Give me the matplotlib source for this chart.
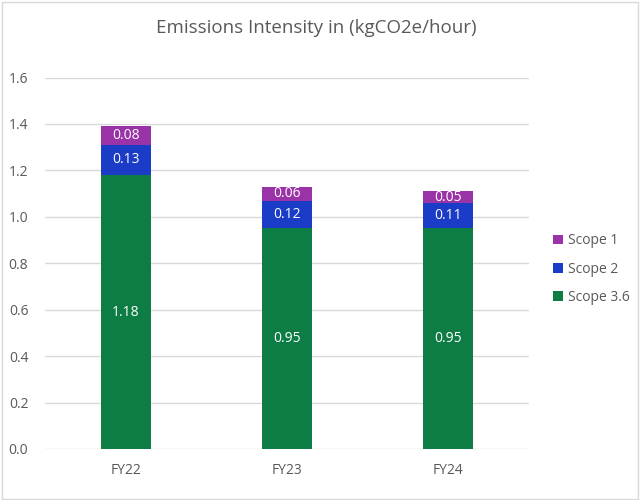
import matplotlib.pyplot as plt
import numpy as np
from matplotlib.patches import Rectangle

plt.rcParams['font.family'] = ['Open Sans', 'DejaVu Sans']

years = ["FY22", "FY23", "FY24"]
scope36 = [1.18, 0.95, 0.95]
scope2 = [0.13, 0.12, 0.11]
scope1 = [0.08, 0.06, 0.05]

green = "#0E7C45"
blue = "#1A3CC6"
purple = "#9A32A8"
grey_text = "#595959"

fig = plt.figure(figsize=(6.4, 5.0), dpi=100)
ax = fig.add_axes([0.0703, 0.102, 0.756, 0.743])

x = np.arange(len(years))
w = 0.31
b1 = ax.bar(x, scope36, w, color=green, label="Scope 3.6", zorder=3)
bottom2 = np.array(scope36)
b2 = ax.bar(x, scope2, w, bottom=bottom2, color=blue, label="Scope 2", zorder=3)
bottom3 = bottom2 + np.array(scope2)
b3 = ax.bar(x, scope1, w, bottom=bottom3, color=purple, label="Scope 1", zorder=3)

# labels inside the segments
for bars, vals, bots in [(b1, scope36, np.zeros(3)), (b2, scope2, bottom2), (b3, scope1, bottom3)]:
    for i in range(len(vals)):
        ax.text(x[i], bots[i] + vals[i] / 2, "%.2f" % vals[i], ha="center", va="center",
                color="white", fontsize=10, zorder=4)

ax.set_xlim(-0.5, 2.5)
ax.set_ylim(0, 1.6)
ax.set_yticks(np.arange(0, 1.61, 0.2))
ax.set_yticklabels(["%.1f" % v for v in np.arange(0, 1.61, 0.2)])
ax.set_xticks(x)
ax.set_xticklabels(years)
ax.tick_params(length=0, colors=grey_text, labelsize=10)
ax.tick_params(axis="x", pad=10)
ax.tick_params(axis="y", pad=12)
ax.grid(axis="y", color="#D9D9D9", linewidth=1, zorder=0)
for s in ax.spines.values():
    s.set_visible(False)

fig.suptitle("Emissions Intensity in (kgCO2e/hour)", x=0.494, y=0.962, fontsize=13.5,
             color=grey_text)

leg = ax.legend(handles=[b3, b2, b1], loc="center left", bbox_to_anchor=(1.025, 0.484),
                frameon=False, fontsize=10, handlelength=0.7, handleheight=0.7,
                handletextpad=0.35, labelspacing=0.95, labelcolor=grey_text)

fig.patches.append(Rectangle((0.003, 0.003), 0.994, 0.994, transform=fig.transFigure,
                             fill=False, edgecolor="#D9D9D9", linewidth=1))

fig.savefig("out.png", dpi=100)
